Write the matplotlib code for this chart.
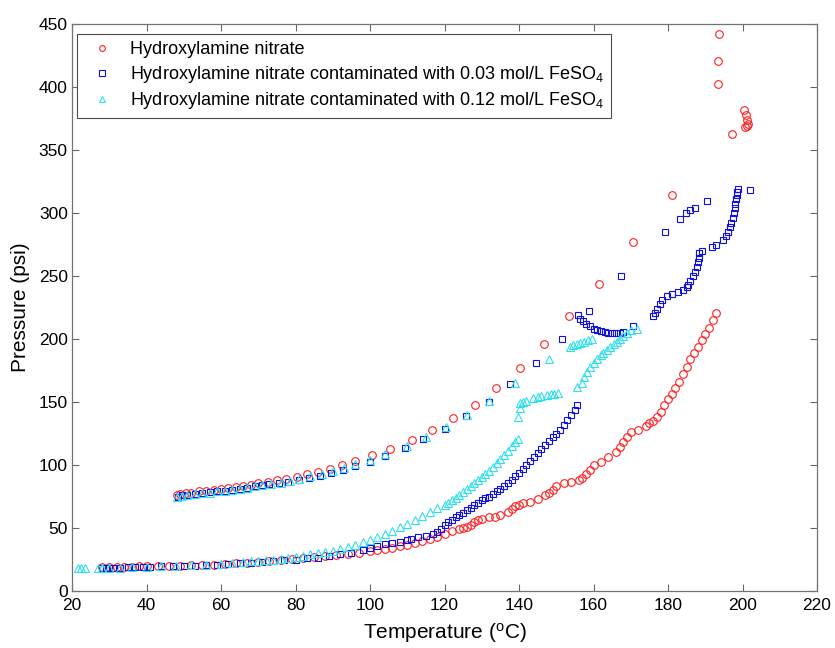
import matplotlib
matplotlib.use('Agg')
import matplotlib.pyplot as plt

plt.rcParams['font.family'] = ['Liberation Sans', 'DejaVu Sans']
plt.rcParams['mathtext.fontset'] = 'custom'
plt.rcParams['mathtext.rm'] = 'Liberation Sans'
plt.rcParams['mathtext.default'] = 'regular'

# Hydroxylamine nitrate (lower branch, jump, upper branch)
han_T = [28, 30, 32, 34, 36, 38, 40, 43, 46, 49, 52, 55, 58, 61, 64, 67, 70, 73, 76, 79,
         82, 85, 88, 91, 94, 97, 100, 102, 104, 106, 108, 110, 112, 114, 116, 118, 120,
         122, 124, 125, 126, 127, 128, 129, 130, 132, 133.5, 135, 137, 138, 139, 140,
         141, 143, 145, 147, 148, 149, 150, 152, 154, 156, 157, 158, 159, 160, 162, 164,
         166, 167, 168, 169, 170, 172, 174, 175, 176, 177, 178, 179, 180, 181, 182, 183,
         184, 185, 186, 187, 188, 189, 190, 191, 192, 193,
         193.5, 193.5, 193.7, 197.1, 200.5, 201, 201.3, 201.5, 201.2, 200.7,
         181, 170.7, 161.5, 153.5, 146.8, 140.3, 133.8, 128.2, 122.2, 116.6, 111.2,
         105.4, 100.5, 96, 92.4, 89.3, 86.1, 83, 80.3, 77.5, 75, 72.5, 70, 68, 66, 64,
         62, 60, 58, 56, 54, 52, 50.5, 49, 48.3]
han_P = [19, 19, 19, 19, 19, 19.5, 19.5, 19.5, 20, 20, 20.5, 20.5, 21, 21.5, 22, 22.5, 23,
         23.5, 24.5, 25.5, 26, 27, 28, 28.5, 29.5, 30.5, 31.5, 32.5, 33.5, 34.5, 35.5, 36.5,
         38, 39.5, 41, 43, 45, 47.5, 49.5, 50, 51, 52.5, 55, 56.5, 57.5, 58.5, 59, 60.5,
         63, 65, 67.5, 68.5, 69.5, 71, 73, 76, 78, 80.5, 83, 85.5, 86.5, 88, 90, 93, 96,
         100, 102.5, 106, 110, 114, 118, 122, 126, 128, 131, 133, 135, 138, 142, 148,
         152, 156, 161, 166, 172, 178, 184, 189, 194, 199, 204, 209, 215, 221,
         402, 421, 442, 363, 382, 378, 374, 371, 369, 368,
         314, 277, 244, 218, 196, 177, 161, 147.5, 137, 128, 120, 113, 108, 103, 100,
         97, 94.5, 92.5, 90.5, 89, 88, 86.5, 85.5, 84.5, 83.5, 82.5, 81.5, 81, 80,
         79.5, 79, 78, 77.5, 77, 76.5]

# Hydroxylamine nitrate + 0.03 mol/L FeSO4
fe03_T = [28, 29, 30, 31, 33, 35, 37, 39, 41, 44, 47, 50, 53, 56, 59, 62, 65, 68, 71, 74,
          77, 80, 83, 86, 89, 92, 95, 98, 100, 102, 104, 106, 108, 110, 111, 113, 115,
          117, 118, 119, 120, 121, 122, 123, 124, 125, 126, 127, 128, 129, 130, 131,
          132, 133, 134, 135, 136, 137, 138, 139, 140, 141, 142, 143, 144, 145, 146,
          147, 148, 149, 150, 151, 152, 153, 154, 155, 155.5,
          155.9, 156.5, 157.2, 158.1, 159, 160, 161, 162, 163, 164, 165, 166, 167, 168,
          170.5, 176, 176.5, 177, 177.9, 178.5, 179.6, 181, 182.8, 184, 185, 185.5, 186,
          186.8, 187.2, 187.7, 188, 188.2, 188.4, 189, 191.7, 193, 194.8, 195.5, 196,
          196.6, 197, 197.4, 197.7, 198, 198.1, 198.3, 198.4, 198.5, 198.7,
          202, 190.6, 187.2, 185.9, 184.8, 183.2, 179.2, 167.4, 158.8, 151.5, 144.6,
          137.6, 132, 125.7, 120.1, 114.3, 109.4, 104, 100, 96, 92.8, 89.5, 86.6, 83.5,
          81, 78, 75.5, 73, 71, 69, 67, 65, 63, 61, 59, 57, 55, 53, 51, 49.5, 48.5]
fe03_P = [18.5, 18.5, 18.5, 18.5, 18.5, 19, 19, 19, 19, 19.5, 19.5, 20, 20, 20.5, 21, 21.5,
          22, 22.5, 23, 23.5, 24.5, 25, 26, 26.5, 27.5, 29, 30.5, 32.5, 34, 35.5, 37,
          38, 39, 40.5, 41.5, 43, 44, 45, 46.5, 49, 52, 54.5, 56.5, 58.5, 60, 62, 64.3,
          66, 68, 70, 72, 73.5, 75, 77, 79, 81, 83.5, 85.5, 88, 91, 94, 97, 100, 103,
          106, 109.5, 113, 116, 119, 122, 125, 128, 132, 136, 140, 144, 148,
          219, 216, 214, 212, 210, 208, 207, 206, 205.5, 205, 205, 205, 205, 205.5,
          210.6, 218.5, 221, 224, 228, 231, 234.4, 236, 237.6, 239, 241, 243, 246,
          250, 253, 257, 261, 264, 268, 270, 273, 275, 278.6, 282, 285,
          289, 292, 296, 300, 304, 307, 311, 314, 317, 319,
          318, 309.5, 303.7, 302, 299.7, 295, 285, 250, 222, 200, 181,
          164, 150, 139, 128.6, 120.4, 113.2, 107, 102.6, 99, 96, 93.5, 91.3, 89.5,
          88, 86.8, 85.8, 84.8, 84, 83, 82, 81, 80.3, 79.5, 79, 78.3, 77.8, 77, 76.5,
          76, 75]

# Hydroxylamine nitrate + 0.12 mol/L FeSO4
fe12_T = [21.5, 22.5, 23.5, 27, 28, 30, 33, 36, 40, 44, 48, 52, 56, 60, 63, 66, 68, 70,
          72, 74, 76, 78, 80, 82, 84, 86, 88, 90, 92, 94, 96, 98, 100, 102, 104, 106,
          108, 110, 112, 114, 116, 118, 120, 121, 122, 123, 124, 125, 126, 127, 128,
          129, 130, 131, 132, 133, 134, 135, 136, 137, 138, 139, 139.8,
          139.8, 140.3, 140.3, 141, 142, 143.8, 145, 146, 147.4, 148.5, 149.5, 150.5,
          155.5, 156.8, 157.5, 158.2, 159.1, 160, 161, 162, 162.6, 163.5, 164.5, 165.5,
          166.2, 167, 168, 168.9, 170.2, 171.6,
          153.7, 154.5, 155.5, 156.5, 157.5, 158.5, 159.5,
          148, 139, 132, 126, 120.5, 115, 110, 104, 100, 96, 93, 90, 87, 84, 81, 78.5,
          76, 73.5, 71, 69, 67, 65, 63, 61, 59, 57, 55, 53, 51, 49.5, 48.3]
fe12_P = [18, 18, 18, 18, 18.5, 18.5, 18.5, 19, 19, 19.5, 20, 20.5, 21, 21.5, 22, 23,
          23.5, 24, 24.5, 25, 25.5, 26.5, 27, 28, 29, 30, 31, 32, 33.5, 35, 36.5, 38.5,
          40.5, 42.5, 45, 48, 51, 53.5, 56.5, 59.5, 62.5, 65.5, 68, 70, 72, 74, 76,
          78.5, 81, 83, 85.5, 88, 90.5, 93, 95.5, 98.5, 101.5, 104.5, 108, 111.5,
          115, 118, 121,
          138, 145, 149, 150, 151, 153, 154, 154.5, 155.6, 156, 156.5, 157,
          162, 165, 170, 174, 178, 181, 184, 187, 189, 191, 194, 196, 198, 200, 202,
          204.5, 207, 208,
          194, 195, 196, 197, 198, 199, 200,
          184, 165, 151, 140, 130, 122, 115, 109, 104, 100.5, 97.5, 95, 93, 91, 89,
          87.5, 86, 85, 84, 83, 82, 81, 80, 79.5, 79, 78, 77.5, 77, 76, 75.5, 74.5]

labels = ['Hydroxylamine nitrate',
          'Hydroxylamine nitrate contaminated with 0.03 mol/L FeSO$_4$',
          'Hydroxylamine nitrate contaminated with 0.12 mol/L FeSO$_4$']

fig = plt.figure(figsize=(8.35, 6.48), dpi=100)
ax = fig.add_axes([72 / 835, 1 - 591 / 648, 745 / 835, 567 / 648])

ms = 5.5
ax.plot(han_T, han_P, linestyle='none', marker='o', ms=ms, mfc='none',
        mec='#ff2020', mew=0.8, label=labels[0])
ax.plot(fe03_T, fe03_P, linestyle='none', marker='s', ms=ms - 0.5, mfc='none',
        mec='#1010e0', mew=0.8, label=labels[1])
ax.plot(fe12_T, fe12_P, linestyle='none', marker='^', ms=ms, mfc='none',
        mec='#30e0ec', mew=0.8, label=labels[2])

ax.set_xlim(20, 220)
ax.set_ylim(0, 450)
ax.set_xticks(range(20, 221, 20))
ax.set_yticks(range(0, 451, 50))
ax.tick_params(direction='in', top=True, right=True, length=5, width=0.8,
               labelsize=12.5, color='0.4')
ax.tick_params(axis='x', pad=5)
ax.tick_params(axis='y', pad=3)
for s in ax.spines.values():
    s.set_color('0.45')
    s.set_linewidth(0.9)

ax.set_xlabel('Temperature ($^{o}$C)', fontsize=15, labelpad=6)
ax.set_ylabel('Pressure (psi)', fontsize=15, labelpad=6)

leg = ax.legend(loc='upper left', bbox_to_anchor=(0.0067, 0.982), borderaxespad=0,
                fontsize=13, fancybox=False, framealpha=1, edgecolor='0.3',
                handlelength=2.0, handletextpad=0.55, labelspacing=0.3,
                borderpad=0.4, markerscale=0.75)
leg.get_frame().set_linewidth(0.8)

fig.savefig('out.png', dpi=100)
